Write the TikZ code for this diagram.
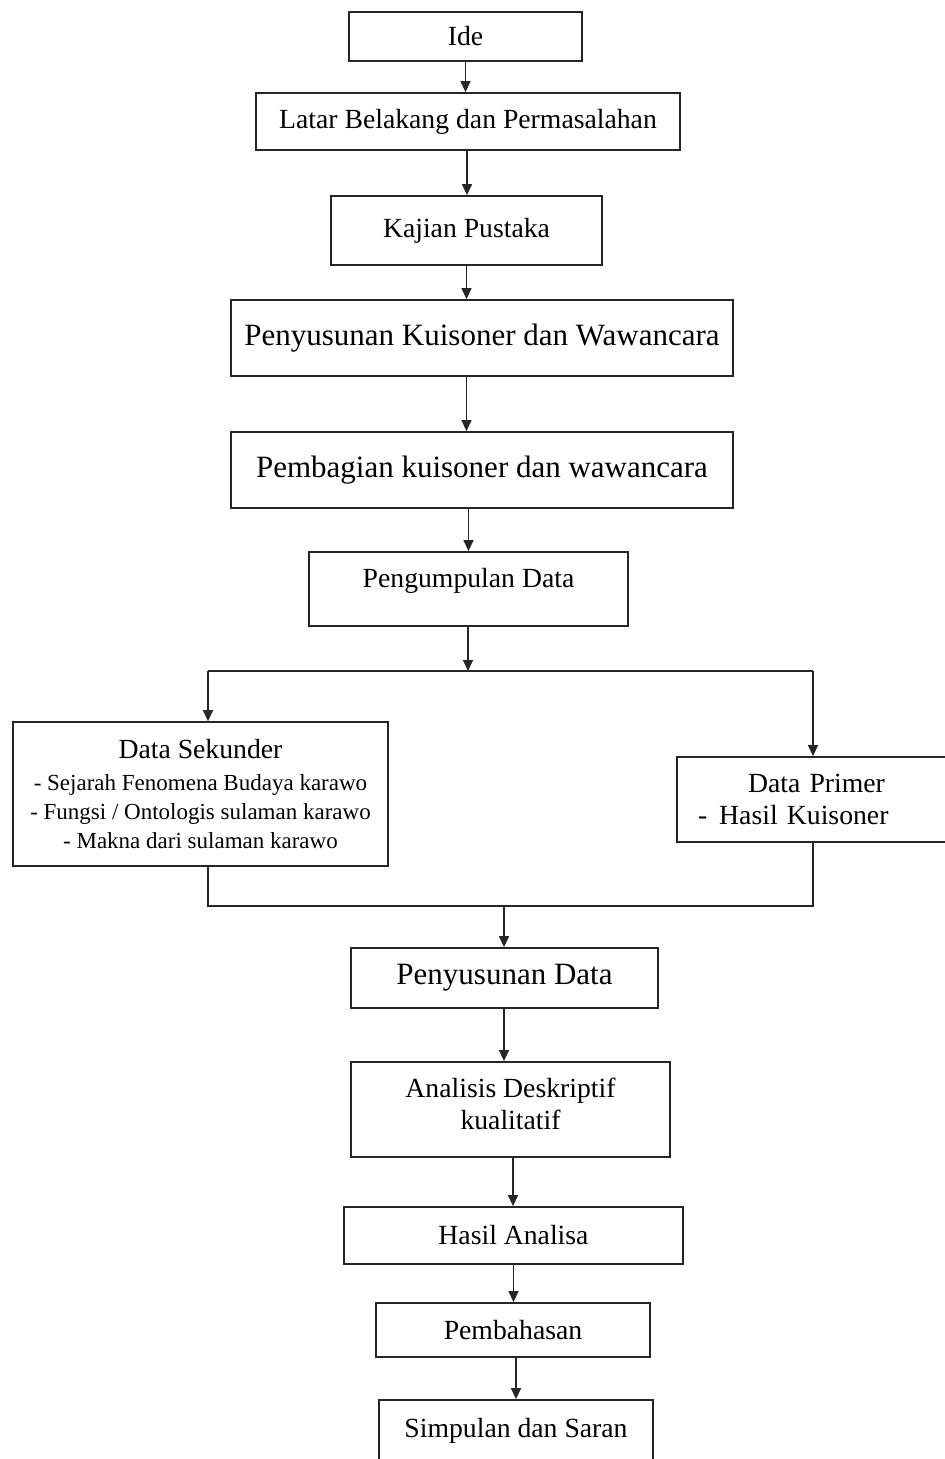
\documentclass[tikz,border=0pt]{standalone}
\usepackage{fontspec}
\setmainfont{Liberation Serif}
\usetikzlibrary{arrows.meta}

\newcommand{\kecil}{\fontsize{23}{29}\selectfont}

\begin{document}
\begin{tikzpicture}[x=1pt, y=1pt,
    box/.style={draw=black!85, line width=1.8pt, inner sep=0pt, align=center,
        font=\fontsize{27.7}{32}\selectfont},
    bigbox/.style={box, font=\fontsize{31}{36}\selectfont},
    arr/.style={draw=black!85, line width=1.3pt, -{Triangle[length=11pt, width=10pt]}},
    ln/.style={draw=black!85, line width=1.3pt}]
    \useasboundingbox (0, 0) rectangle (945, -1459);
    \clip (0, 0) rectangle (945, -1459);

    \node[box, minimum width=233, minimum height=49] (ide) at (465.5, -36.5) {Ide};
    \node[box, minimum width=424, minimum height=57] (latar) at (468, -121.5) {Latar Belakang dan Permasalahan};
    \node[box, minimum width=271, minimum height=69] (kajian) at (466.5, -230.5) {Kajian Pustaka};
    \node[bigbox, minimum width=502, minimum height=76] (susun) at (482, -338) {Penyusunan Kuisoner dan Wawancara};
    \node[bigbox, minimum width=502, minimum height=76] (bagi) at (482, -470) {Pembagian kuisoner dan wawancara};
    \node[box, minimum width=319, minimum height=74] (kumpul) at (468.5, -589) {Pengumpulan Data\\[-10pt]};
    \node[box, minimum width=375, minimum height=144] (sekunder) at (200.5, -794)
        {Data Sekunder\\[0pt]
         \kecil - Sejarah Fenomena Budaya karawo\\[-3pt]
         \kecil - Fungsi / Ontologis sulaman karawo\\[-3pt]
         \kecil - Makna dari sulaman karawo};
    \node[box, minimum width=278, minimum height=85, text width=248, align=left] (primer) at (816, -799.5)
        {\hspace*{56pt}Data Primer\\\hspace*{6pt}-\hspace{12pt}Hasil Kuisoner};
    \node[bigbox, minimum width=307, minimum height=60] (penydata) at (504.5, -978) {Penyusunan Data};
    \node[box, minimum width=319, minimum height=95] (analisis) at (510.5, -1109.5) {Analisis Deskriptif\\kualitatif\\[-20pt]};
    \node[box, minimum width=339, minimum height=57] (hasil) at (513.5, -1235.5) {Hasil Analisa};
    \node[box, minimum width=274, minimum height=54] (bahas) at (513, -1330) {Pembahasan};
    \node[box, minimum width=274, minimum height=62] (simpul) at (516, -1431) {Simpulan dan Saran};

    \coordinate (split) at (468, -671);
    \coordinate (kiri) at (208, -671);
    \coordinate (kanan) at (813, -671);
    \coordinate (merge) at (504, -906);

    \draw[arr] (ide.south) -- (ide.south |- latar.north);
    \draw[arr] ([xshift=-1pt]latar.south) -- ([xshift=-1pt]latar.south |- kajian.north);
    \draw[arr] (kajian.south) -- (kajian.south |- susun.north);
    \draw[arr] (kajian.south |- susun.south) -- (kajian.south |- bagi.north);
    \draw[arr] (kumpul.south |- bagi.south) -- (kumpul.north);
    \draw[arr] (split |- kumpul.south) -- (split);
    \draw[ln] (kiri) -- (kanan);
    \draw[arr] (kiri) -- (kiri |- sekunder.north);
    \draw[arr] (kanan) -- (kanan |- primer.north);
    \draw[ln] (kiri |- sekunder.south) |- (merge) -| (kanan |- primer.south);
    \draw[arr] (merge) -- (merge |- penydata.north);
    \draw[arr] (merge |- penydata.south) -- (merge |- analisis.north);
    \draw[arr] ([xshift=2.5pt]analisis.south) -- ([xshift=2.5pt]analisis.south |- hasil.north);
    \draw[arr] (hasil.south) -- (hasil.south |- bahas.north);
    \draw[arr] ([xshift=3pt]bahas.south) -- ([xshift=3pt]bahas.south |- simpul.north);
\end{tikzpicture}
\end{document}
